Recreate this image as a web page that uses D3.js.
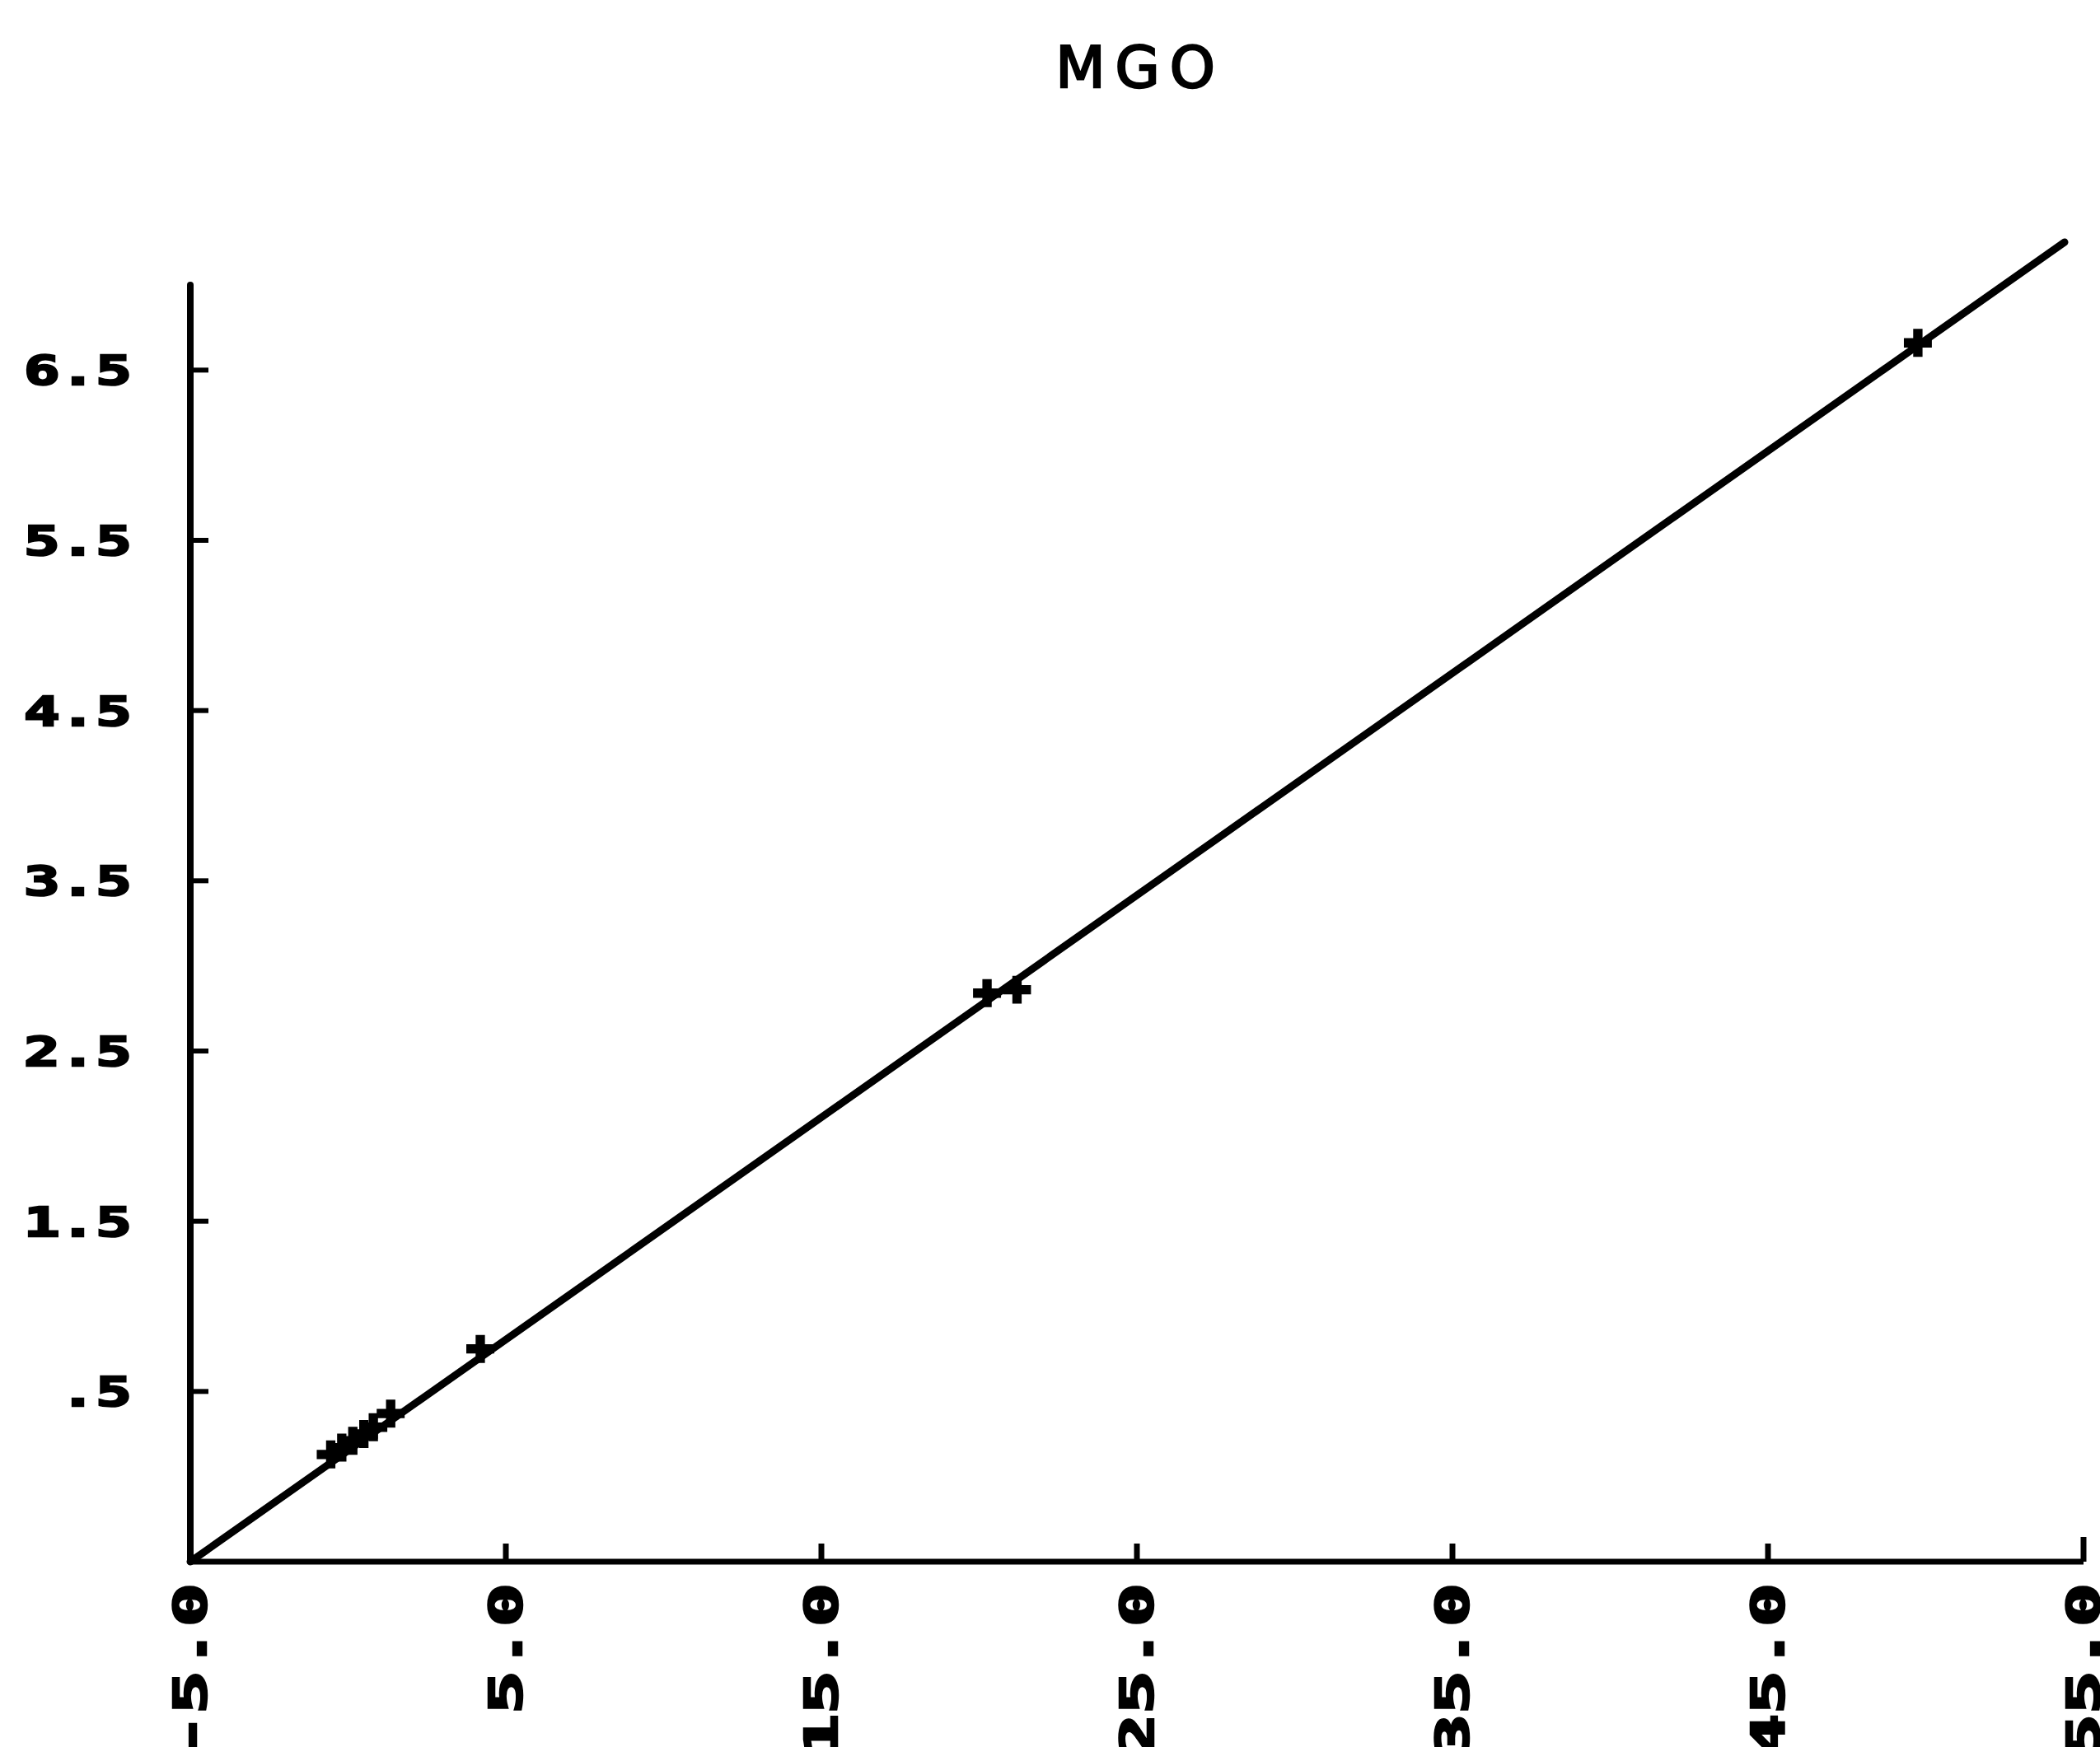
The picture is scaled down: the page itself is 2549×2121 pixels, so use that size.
<!DOCTYPE html>
<html>
<head>
<meta charset="utf-8">
<script src="https://cdn.jsdelivr.net/npm/d3@7"></script>
<style>
  html, body { margin: 0; padding: 0; background: #fff; }
  svg { display: block; }
</style>
</head>
<body>
<script>
// Calibration plot for MGO: observed values with the fitted straight line.
const chartTitle = "MGO";

const xValues = [-0.55, -0.2, 0.15, 0.5, 0.8, 1.35, 4.19, 20.25, 21.2, 49.75];
const yValues = [0.13, 0.17, 0.21, 0.25, 0.29, 0.37, 0.75, 2.84, 2.86, 6.66];

// fitted line  y = fitSlope * x + fitIntercept, drawn over fitExtent
const fitSlope = 0.1305;
const fitIntercept = 0.1525;
const fitExtent = [-5, 54.4];

const xTicks = [-5, 5, 15, 25, 35, 45, 55];
const xTickLabels = ["-5.0", "5.0", "15.0", "25.0", "35.0", "45.0", "55.0"];
const yTicks = [0.5, 1.5, 2.5, 3.5, 4.5, 5.5, 6.5];
const yTickLabels = [".5", "1.5", "2.5", "3.5", "4.5", "5.5", "6.5"];

const W = 2549, H = 2121;
const x = d3.scaleLinear().domain([-5, 55]).range([231, 2529]);
const y = d3.scaleLinear().domain([-0.5, 7.0]).range([1896, 346]);

const svg = d3.select("body").append("svg")
  .attr("width", W).attr("height", H)
  .attr("viewBox", `0 0 ${W} ${H}`);

svg.append("rect").attr("width", W).attr("height", H).attr("fill", "#fff");

const ink = "#000";

// title
svg.append("text")
  .attr("x", 1384).attr("y", 106)
  .attr("text-anchor", "middle")
  .attr("font-family", "DejaVu Sans, sans-serif")
  .attr("font-size", 70)
  .attr("letter-spacing", 12)
  .attr("fill", ink)
  .attr("stroke", ink).attr("stroke-width", 2.5)
  .text(chartTitle);

// axes
svg.append("line")
  .attr("x1", x(-5)).attr("x2", x(-5))
  .attr("y1", y(-0.5)).attr("y2", y(7.0))
  .attr("stroke", ink).attr("stroke-width", 8).attr("stroke-linecap", "round");
svg.append("line")
  .attr("x1", x(-5)).attr("x2", x(55))
  .attr("y1", y(-0.5)).attr("y2", y(-0.5))
  .attr("stroke", ink).attr("stroke-width", 7);

// y ticks (pointing inward) and labels
svg.selectAll(".ytick").data(yTicks).join("line")
  .attr("class", "ytick")
  .attr("x1", x(-5)).attr("x2", x(-5) + 22)
  .attr("y1", d => y(d)).attr("y2", d => y(d))
  .attr("stroke", ink).attr("stroke-width", 6);

svg.selectAll(".ylab").data(yTicks).join("text")
  .attr("class", "ylab")
  .attr("transform", d => `translate(160,${y(d) + 18}) scale(1.45,1)`)
  .attr("text-anchor", "end")
  .attr("font-family", "DejaVu Sans Mono, monospace")
  .attr("font-weight", "bold")
  .attr("font-size", 50)
  .attr("fill", ink)
  .attr("stroke", ink).attr("stroke-width", 2.5)
  .text((d, i) => yTickLabels[i]);

// x ticks (pointing upward) and rotated labels
svg.selectAll(".xtick").data(xTicks.slice(1)).join("line")
  .attr("class", "xtick")
  .attr("x1", d => x(d)).attr("x2", d => x(d))
  .attr("y1", y(-0.5)).attr("y2", (d, i, n) => y(-0.5) - (i === n.length - 1 ? 30 : 22))
  .attr("stroke", ink).attr("stroke-width", 7);

svg.selectAll(".xlab").data(xTicks).join("text")
  .attr("class", "xlab")
  .attr("transform", d => `translate(${x(d)},1922) rotate(-90) scale(1.6,1)`)
  .attr("text-anchor", "end")
  .attr("dominant-baseline", "central")
  .attr("font-family", "DejaVu Sans Mono, monospace")
  .attr("font-weight", "bold")
  .attr("font-size", 55)
  .attr("fill", ink)
  .attr("stroke", ink).attr("stroke-width", 2.5)
  .text((d, i) => xTickLabels[i]);

// fitted line
const fitLine = d3.line()
  .x(d => x(d))
  .y(d => y(fitSlope * d + fitIntercept));
svg.append("path")
  .datum(fitExtent)
  .attr("d", fitLine)
  .attr("fill", "none")
  .attr("stroke", ink)
  .attr("stroke-width", 9)
  .attr("stroke-linecap", "round");

// observations as plus markers
const cross = d3.symbol().type(d3.symbolCross).size(640);
svg.selectAll(".pt").data(xValues).join("path")
  .attr("class", "pt")
  .attr("transform", (d, i) => `translate(${x(d)},${y(yValues[i])})`)
  .attr("d", cross)
  .attr("fill", ink);
</script>
</body>
</html>
